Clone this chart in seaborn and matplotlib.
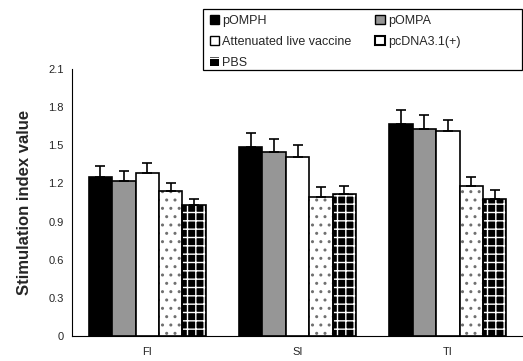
import matplotlib
matplotlib.use("Agg")
import matplotlib.pyplot as plt
import seaborn as sns
import pandas as pd
from matplotlib.patches import Rectangle, Patch

categories = ["FI", "SI", "TI"]
groups = ["pOMPH", "pOMPA", "Attenuated live vaccine", "pcDNA3.1(+)", "PBS"]
pOMPH = [1.25, 1.49, 1.67]
pOMPA = [1.22, 1.45, 1.63]
attenuated = [1.28, 1.41, 1.61]
pcdna = [1.14, 1.09, 1.18]
pbs = [1.03, 1.12, 1.08]
err_pOMPH = [0.09, 0.11, 0.11]
err_pOMPA = [0.08, 0.10, 0.11]
err_att = [0.08, 0.095, 0.09]
err_pcdna = [0.06, 0.08, 0.07]
err_pbs = [0.05, 0.06, 0.07]
yticks = [0, 0.3, 0.6, 0.9, 1.2, 1.5, 1.8, 2.1]
ytick_labels = ["0", "0.3", "0.6", "0.9", "1.2", "1.5", "1.8", "2.1"]

values = [pOMPH, pOMPA, attenuated, pcdna, pbs]
errors = [err_pOMPH, err_pOMPA, err_att, err_pcdna, err_pbs]

rows = []
for g, vals in zip(groups, values):
    for c, v in zip(categories, vals):
        rows.append({"cat": c, "group": g, "value": v})
df = pd.DataFrame(rows)

sns.set_style("white")
plt.rcParams["font.family"] = ["Liberation Sans", "DejaVu Sans"]
plt.rcParams["hatch.linewidth"] = 1.0

fig = plt.figure(figsize=(5.23, 3.61), dpi=100)
ax = fig.add_axes([0.138, 0.069, 0.862, 0.740])

faces = ["black", "#969696", "white", "white", "black"]
palette = dict(zip(groups, faces))
sns.barplot(data=df, x="cat", y="value", hue="group", order=categories,
            hue_order=groups, palette=palette, width=0.78, ax=ax,
            edgecolor="black", linewidth=1.2, errorbar=None, legend=False,
            saturation=1)

bar_containers = list(ax.containers)
hatch_styles = {3: ("..", "#707070"), 4: ("++", "white")}
for i, cont in enumerate(bar_containers):
    for j, p in enumerate(cont.patches):
        if i in hatch_styles:
            h, hc = hatch_styles[i]
            p.set_hatch(h)
            p.set_edgecolor(hc)
            p.set_linewidth(0)
            ax.add_patch(Rectangle((p.get_x(), p.get_y()), p.get_width(),
                                   p.get_height(), fill=False,
                                   edgecolor="black", linewidth=1.2, zorder=3))
        xc = p.get_x() + p.get_width() / 2
        ax.errorbar(xc, p.get_height(), yerr=[[0], [errors[i][j]]],
                    fmt="none", ecolor="black", elinewidth=1.2, capsize=3.6,
                    capthick=1.2, zorder=4)

ax.set_ylim(0, 2.1)
ax.set_xlim(-0.5, 2.5)
ax.set_yticks(yticks)
ax.set_yticklabels(ytick_labels, fontsize=8)
ax.set_xticks([0, 1, 2])
ax.set_xticklabels(categories, fontsize=8)
ax.set_xticks([0.5, 1.5], minor=True)
ax.tick_params(axis="x", which="major", length=0, pad=8)
ax.tick_params(axis="x", which="minor", length=6, direction="inout", width=0.8, color="black")
ax.tick_params(axis="y", length=6, direction="inout", width=0.8, color="black", pad=3)
ax.set_xlabel("")
ax.set_ylabel("Stimulation index value", fontsize=12, fontweight="bold", labelpad=12)
for s in ["top", "right"]:
    ax.spines[s].set_visible(False)
for s in ["left", "bottom"]:
    ax.spines[s].set_color("black")
    ax.spines[s].set_linewidth(0.8)

handles = [
    Patch(facecolor="black", edgecolor="black", linewidth=1),
    Patch(facecolor="#969696", edgecolor="black", linewidth=1),
    Patch(facecolor="white", edgecolor="black", linewidth=1),
    Patch(facecolor="white", edgecolor="black", linewidth=1.5),
    Patch(facecolor="black", edgecolor="white", linewidth=0, hatch="+"),
]
order = [0, 2, 4, 1, 3]
W, H = 523, 361
fig.patches.append(Rectangle((203 / W, 1 - 70 / H), 319 / W, 61 / H,
                             transform=fig.transFigure, fill=False,
                             edgecolor="black", linewidth=0.9))
leg = fig.legend([handles[k] for k in order], [groups[k] for k in order],
                 ncol=2, loc="upper left",
                 bbox_to_anchor=(206 / W, 1 - 11.5 / H),
                 borderaxespad=0, fontsize=9, frameon=False,
                 handlelength=0.75, handleheight=0.75,
                 handletextpad=0.25, columnspacing=1.9, borderpad=0.3,
                 labelspacing=0.72)

fig.savefig("out.png", dpi=100)
